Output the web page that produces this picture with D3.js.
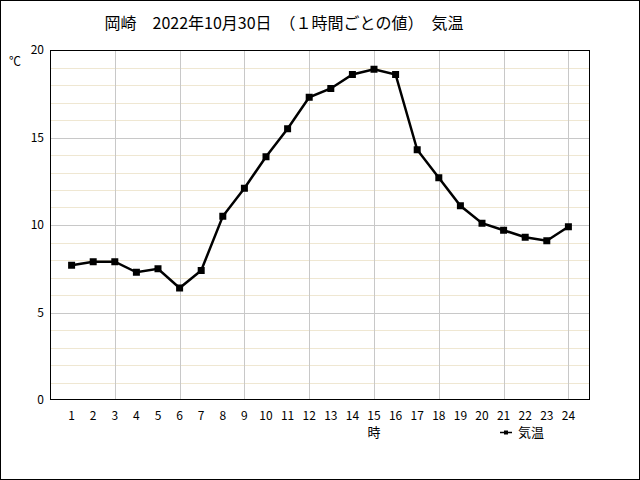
<!DOCTYPE html>
<html lang="ja">
<meta charset="UTF-8">
<title>岡崎 気温</title>
<script src="https://d3js.org/d3.v7.min.js"></script>
<style>
  body { margin: 0; background: #fff; }
  svg text { font-family: "Noto Sans CJK JP", "DejaVu Sans", sans-serif; fill: #000; }
</style>
<body>
<svg id="chart" width="640" height="480"></svg>
<script>
  // 1時間ごとの気温
  var hours = [1,2,3,4,5,6,7,8,9,10,11,12,13,14,15,16,17,18,19,20,21,22,23,24];
  var temps = [7.7,7.9,7.9,7.3,7.5,6.4,7.4,10.5,12.1,13.9,15.5,17.3,17.8,18.6,18.9,18.6,14.3,12.7,11.1,10.1,9.7,9.3,9.1,9.9];
  var yTicks = [0,5,10,15,20];
  var titleText = "岡崎　2022年10月30日　（１時間ごとの値）　気温";

  var svg = d3.select("#chart");
  var plotL = 50, plotR = 590, plotT = 50, plotB = 400;

  var x = d3.scaleLinear().domain([0, 25]).range([plotL, plotR]);
  var y = d3.scaleLinear().domain([0, 20]).range([plotB, plotT]);

  // frame of the whole image
  svg.append("rect")
    .attr("x", 0.5).attr("y", 0.5).attr("width", 639).attr("height", 479)
    .attr("fill", "none").attr("stroke", "#000");

  svg.append("text")
    .attr("x", 284).attr("y", 29)
    .attr("text-anchor", "middle")
    .style("font-size", "16px")
    .text(titleText);

  // minor grid (every 1 deg)
  svg.append("g").selectAll("line")
    .data(d3.range(1, 20).filter(d => d % 5 != 0))
    .join("line")
      .attr("x1", plotL).attr("x2", plotR)
      .attr("y1", d => Math.round(y(d)) + 0.5).attr("y2", d => Math.round(y(d)) + 0.5)
      .attr("stroke", "#efe7d2");

  // major grid
  svg.append("g").selectAll("line")
    .data([5, 10, 15])
    .join("line")
      .attr("x1", plotL).attr("x2", plotR)
      .attr("y1", d => Math.round(y(d)) + 0.5).attr("y2", d => Math.round(y(d)) + 0.5)
      .attr("stroke", "#c8c8c8");

  svg.append("g").selectAll("line")
    .data([3, 6, 9, 12, 15, 18, 21, 24])
    .join("line")
      .attr("x1", d => Math.round(x(d)) + 0.5).attr("x2", d => Math.round(x(d)) + 0.5)
      .attr("y1", plotT).attr("y2", plotB)
      .attr("stroke", "#c8c8c8");

  svg.append("rect")
    .attr("x", plotL + 0.5).attr("y", plotT + 0.5)
    .attr("width", plotR - plotL - 1).attr("height", plotB - plotT - 1)
    .attr("fill", "none").attr("stroke", "#000");

  // y axis labels
  svg.append("g").selectAll("text")
    .data(yTicks)
    .join("text")
      .attr("x", 44).attr("y", d => y(d) + 4)
      .attr("text-anchor", "end")
      .style("font-size", "12px")
      .text(d => d);

  svg.append("text")
    .attr("x", 15).attr("y", 66)
    .attr("text-anchor", "middle")
    .style("font-size", "12px")
    .text("℃");

  // x axis labels
  svg.append("g").selectAll("text")
    .data(hours)
    .join("text")
      .attr("x", d => x(d)).attr("y", 420)
      .attr("text-anchor", "middle")
      .style("font-size", "12px")
      .text(d => d);

  svg.append("text")
    .attr("x", x(15)).attr("y", 437)
    .attr("text-anchor", "middle")
    .style("font-size", "13px")
    .text("時");

  // line
  var line = d3.line().x((d, i) => x(hours[i])).y(d => y(d));
  svg.append("path")
    .datum(temps)
    .attr("d", line)
    .attr("fill", "none")
    .attr("stroke", "#000")
    .attr("stroke-width", 2.5);

  svg.append("g").selectAll("rect")
    .data(temps)
    .join("rect")
      .attr("x", (d, i) => x(hours[i]) - 3.5)
      .attr("y", d => y(d) - 3.5)
      .attr("width", 7).attr("height", 7)
      .attr("fill", "#000");

  // legend
  var lg = svg.append("g").attr("transform", "translate(500,432)");
  lg.append("line").attr("x1", 0).attr("x2", 12).attr("y1", 0.5).attr("y2", 0.5)
    .attr("stroke", "#000").attr("stroke-width", 1.5);
  lg.append("rect").attr("x", 4).attr("y", -1.5).attr("width", 4).attr("height", 4).attr("fill", "#000");
  lg.append("text").attr("x", 18).attr("y", 5)
    .style("font-size", "13px")
    .text("気温");
</script>
</body>
</html>
